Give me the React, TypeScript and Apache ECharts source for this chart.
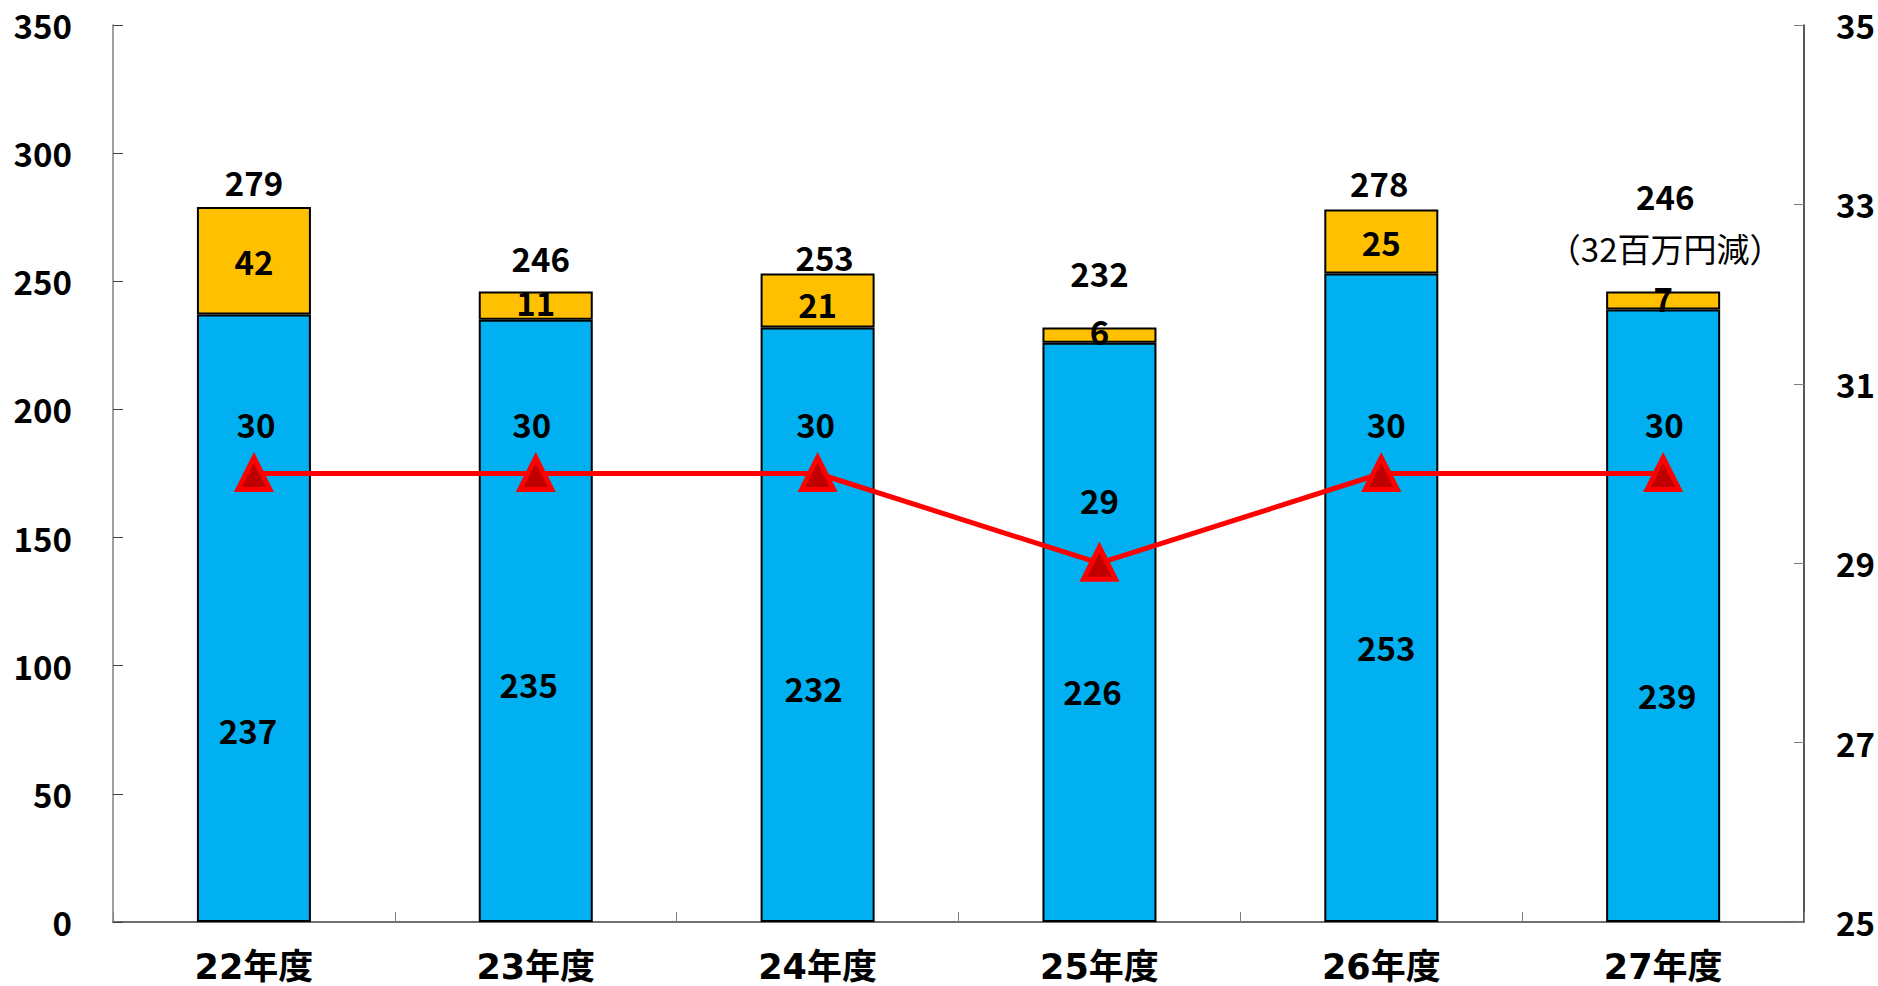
import React, { useEffect, useRef } from "react";
import * as echarts from "echarts";

const categories = ["22年度", "23年度", "24年度", "25年度", "26年度", "27年度"];
const baseValues = [237, 235, 232, 226, 253, 239];
const extraValues = [42, 11, 21, 6, 25, 7];
const totalValues = [279, 246, 253, 232, 278, 246];
const lineValues = [30, 30, 30, 29, 30, 30];
const notes = ["", "", "", "", "", "（32百万円減）"];

const leftMin = 0;
const leftMax = 350;
const leftStep = 50;
const rightMin = 25;
const rightMax = 35;
const rightStep = 2;

// label nudges (styling only)
const baseLabelOffsets = [[-6, 112], [-7, 63], [-4, 63], [-7, 59], [5, 49], [4, 79]];
const extraLabelOffsets = [[0, 0], [0, -4], [0, 3], [0, -4], [0, 0], [0, -3]];
const totalLabelOffsets = [[0, -25], [5, -34], [7, -17], [0, -54], [-2, -27], [2, -70]];
const lineLabelOffsets = [[2, -50], [-4, -50], [-2, -50], [0, -63], [5, -50], [1, -50]];

const FONT = "Noto Sans CJK JP";
const CAT_FONT = "'DejaVu Sans', 'Noto Sans CJK JP'";

export default function App() {
  const ref = useRef<HTMLDivElement>(null);
  useEffect(() => {
    if (!ref.current) return;
    const chart = echarts.init(ref.current, null, { renderer: "svg" });
    const labelBase = {
      fontFamily: FONT,
      fontSize: 33,
      fontWeight: "bold" as const,
      color: "#000",
      textBorderWidth: 0,
    };
    chart.setOption({
      animation: false,
      backgroundColor: "#ffffff",
      grid: { left: 113, right: 73, top: 25, bottom: 64 },
      xAxis: {
        type: "category",
        data: categories,
        axisLine: { lineStyle: { color: "#404040", width: 1.5 } },
        axisTick: { show: true, inside: true, length: 10, alignWithLabel: false, lineStyle: { color: "#808080" } },
        axisLabel: {
          fontFamily: CAT_FONT,
          fontSize: 35,
          fontWeight: "bold",
          color: "#000",
          lineHeight: 34,
          margin: 28,
        },
        splitLine: { show: false },
      },
      yAxis: [
        {
          type: "value",
          min: leftMin,
          max: leftMax,
          interval: leftStep,
          axisLine: { show: true, lineStyle: { color: "#808080", width: 1.5 } },
          axisTick: { show: true, inside: true, length: 10, lineStyle: { color: "#404040" } },
          axisLabel: { ...labelBase, margin: 41 },
          splitLine: { show: false },
        },
        {
          type: "value",
          min: 0,
          max: rightMax - rightMin,
          interval: rightStep,
          position: "right",
          axisLine: { show: true, lineStyle: { color: "#202020", width: 1.5 } },
          axisTick: { show: true, inside: true, length: 10, lineStyle: { color: "#808080" } },
          axisLabel: {
            ...labelBase,
            margin: 32,
            formatter: (v: number) => String(v + rightMin),
          },
          splitLine: { show: false },
        },
      ],
      series: [
        {
          type: "bar",
          stack: "total",
          barWidth: 114,
          itemStyle: { color: "#00B0F0", borderColor: "#000", borderWidth: 2 },
          label: { show: true, position: "inside", ...labelBase },
          data: baseValues.map((v, i) => ({
            value: v,
            label: { offset: baseLabelOffsets[i] },
          })),
          z: 2,
        },
        {
          type: "bar",
          stack: "total",
          barWidth: 114,
          itemStyle: { color: "#FFC000", borderColor: "#000", borderWidth: 2 },
          label: { show: true, position: "inside", ...labelBase },
          data: extraValues.map((v, i) => ({
            value: v,
            label: { offset: extraLabelOffsets[i] },
          })),
          z: 2,
        },
        {
          type: "scatter",
          yAxisIndex: 0,
          symbolSize: 1,
          itemStyle: { color: "rgba(255,255,255,0)", opacity: 1 },
          silent: true,
          label: {
            show: true,
            position: "inside",
            ...labelBase,
            formatter: (p: any) => {
              const n = notes[p.dataIndex];
              return n ? `{t|${totalValues[p.dataIndex]}}\n{n|${n}}` : String(totalValues[p.dataIndex]);
            },
            rich: {
              t: { fontFamily: FONT, fontSize: 33, fontWeight: "bold", color: "#000", lineHeight: 52 },
              n: { fontFamily: FONT, fontSize: 33, fontWeight: "normal", color: "#000", lineHeight: 52 },
            },
          },
          data: totalValues.map((v, i) => ({
            value: v,
            label: { offset: totalLabelOffsets[i] },
          })),
          z: 5,
        },
        {
          type: "line",
          yAxisIndex: 1,
          symbol: "triangle",
          symbolSize: 32,
          lineStyle: { color: "#FF0000", width: 5 },
          itemStyle: { color: "#C00000", borderColor: "#FF0000", borderWidth: 5 },
          label: {
            show: true,
            position: "inside",
            ...labelBase,
            formatter: (p: any) => String(lineValues[p.dataIndex]),
          },
          data: lineValues.map((v, i) => ({
            value: v - rightMin,
            label: { offset: lineLabelOffsets[i] },
          })),
          z: 4,
        },
      ],
    });
    return () => chart.dispose();
  }, []);
  return (
    <div
      ref={ref}
      style={{ position: "fixed", left: 0, top: 0, width: 1878, height: 986, background: "#fff" }}
    />
  );
}
